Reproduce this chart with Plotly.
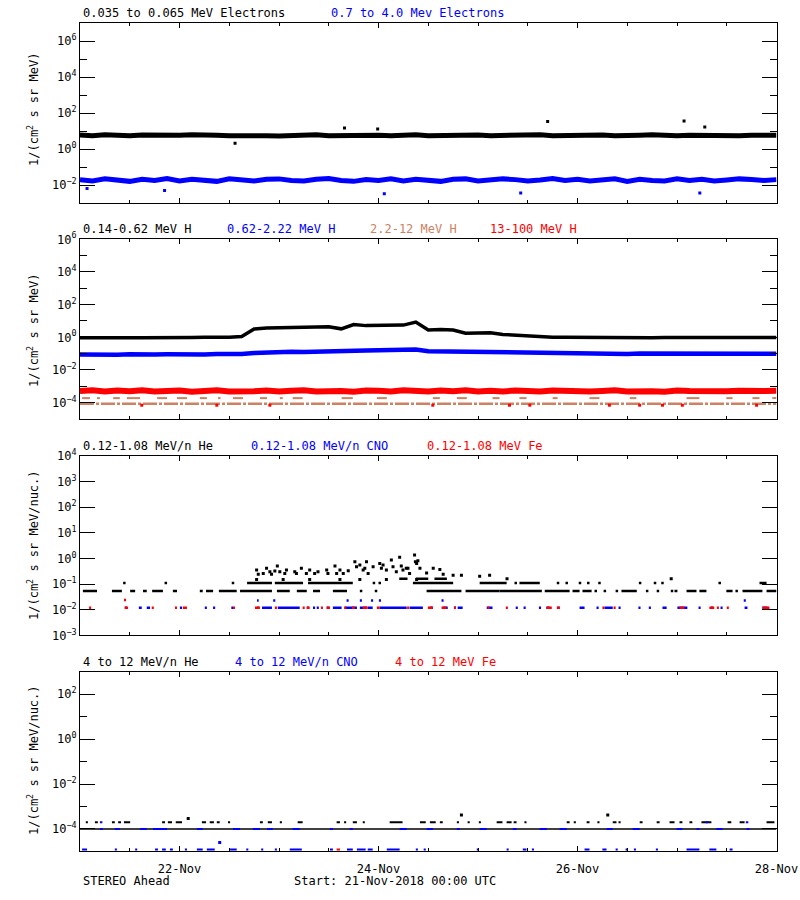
import pandas as pd
import plotly.graph_objects as go

# ---------------- time base ----------------
T0 = pd.Timestamp("2018-11-21 00:00")
T_END = pd.Timestamp("2018-11-28 00:00")
BAND_STEP_H = 3  # dense series sampled every 3 hours

# ---------------- panel 1 : electrons (1/(cm2 s sr MeV)) ----------------
E_LOW_BAND = [6.0, 5.6, 6.3, 5.8, 5.5, 6.1, 5.9, 5.4,
              5.8, 6.2, 5.6, 5.9, 5.5, 5.8, 6.1, 5.6,
              5.4, 5.9, 5.7, 6.2, 5.5, 5.8, 5.6, 6.1,
              5.9, 5.5, 5.8, 6.3, 5.6, 5.9, 5.5, 5.8,
              6.1, 5.6, 5.9, 5.4, 5.8, 6.2, 5.6, 5.9,
              5.5, 5.8, 6.1, 5.6, 5.4, 5.9, 6.2, 5.7,
              5.5, 5.9, 5.6, 6.1, 5.8, 5.5, 5.9, 5.6,
              5.8]
E_LOW_OUT_H = [37.4, 63.8, 71.8, 112.8, 145.7, 150.7]
E_LOW_OUT_V = [2.1, 15, 13, 34, 36, 17]

E_HIGH_BAND = [0.020, 0.017, 0.022, 0.019, 0.016, 0.021, 0.018, 0.023,
               0.017, 0.021, 0.019, 0.016, 0.022, 0.018, 0.017, 0.021,
               0.022, 0.018, 0.017, 0.021, 0.023, 0.018, 0.016, 0.020,
               0.018, 0.022, 0.017, 0.021, 0.019, 0.016, 0.021, 0.022,
               0.017, 0.019, 0.022, 0.020, 0.017, 0.019, 0.023, 0.018,
               0.021, 0.017, 0.019, 0.022, 0.016, 0.021, 0.018, 0.017,
               0.022, 0.018, 0.021, 0.017, 0.019, 0.022, 0.020, 0.018,
               0.020]
E_HIGH_OUT_H = [1.7, 20.4, 73.4, 106.3, 149.5]
E_HIGH_OUT_V = [0.0065, 0.005, 0.0033, 0.0036, 0.0036]

# ---------------- panel 2 : protons ----------------
H_LOW_BAND = [0.93, 0.91, 0.94, 0.92, 0.93, 0.95, 0.93, 0.96,
              0.97, 0.98, 1.00, 0.98, 1.02, 1.12, 3.2, 3.7,
              3.8, 3.7, 3.8, 4.2, 4.4, 3.3, 6.0, 5.2,
              5.4, 5.2, 5.6, 8.5, 2.8, 3.0, 2.8, 1.8,
              1.75, 1.9, 1.5, 1.35, 1.25, 1.08, 1.02, 1.00,
              0.98, 1.00, 0.97, 0.99, 0.96, 0.98, 0.95, 0.97,
              0.96, 0.98, 0.95, 0.97, 0.96, 0.94, 0.97, 0.96,
              0.97]
H_MID_BAND = [0.088, 0.084, 0.091, 0.086, 0.093, 0.085, 0.090, 0.092,
              0.087, 0.093, 0.089, 0.094, 0.088, 0.096, 0.110, 0.120,
              0.125, 0.131, 0.127, 0.136, 0.139, 0.151, 0.144, 0.156,
              0.159, 0.166, 0.169, 0.180, 0.140, 0.136, 0.129, 0.126,
              0.120, 0.117, 0.116, 0.109, 0.108, 0.104, 0.103, 0.099,
              0.101, 0.097, 0.103, 0.098, 0.096, 0.101, 0.102, 0.097,
              0.101, 0.098, 0.103, 0.097, 0.102, 0.099, 0.098, 0.103,
              0.100]
H_TOP_BAND = [5.2e-4, 5.7e-4, 4.8e-4, 5.5e-4, 5.0e-4, 5.8e-4, 4.9e-4, 5.3e-4,
              5.6e-4, 4.7e-4, 5.2e-4, 5.7e-4, 4.9e-4, 5.5e-4, 5.0e-4, 5.6e-4,
              4.8e-4, 5.3e-4, 5.8e-4, 4.9e-4, 5.5e-4, 5.1e-4, 4.7e-4, 5.6e-4,
              5.3e-4, 4.9e-4, 5.7e-4, 5.1e-4, 4.8e-4, 5.5e-4, 5.0e-4, 5.7e-4,
              4.9e-4, 5.4e-4, 4.8e-4, 5.6e-4, 5.1e-4, 4.9e-4, 5.5e-4, 5.0e-4,
              5.6e-4, 4.8e-4, 5.2e-4, 5.7e-4, 4.9e-4, 5.4e-4, 5.0e-4, 4.7e-4,
              5.5e-4, 5.1e-4, 4.9e-4, 5.6e-4, 5.0e-4, 5.4e-4, 4.8e-4, 5.2e-4,
              5.3e-4]
H_TOP_LOW_H = [14.9, 33.0, 45.8, 85.1, 103.6, 108.5, 127.7, 135.0, 140.5, 145.3, 163.2]
H_TOP_LOW_V = [7e-5, 7e-5, 7e-5, 7e-5, 7e-5, 7e-5, 7e-5, 7e-5, 7e-5, 7e-5, 7e-5]

# 2.2-12 MeV H: quantised count levels, (start hour, end hour)
H_HIGH_LEVEL1 = 8.5e-5
H_HIGH_LEVEL1_RUNS = [(0.0, 168.0)]
H_HIGH_LEVEL2 = 1.9e-4
H_HIGH_LEVEL2_RUNS = [(0.5, 2.4), (4.1, 4.8), (8.0, 9.6), (11.3, 14.5), (18.6, 21.0),
                      (23.4, 25.8), (28.9, 30.6), (33.3, 33.9), (36.9, 39.3), (43.4, 45.1),
                      (48.2, 48.9), (51.3, 53.7), (63.1, 65.8), (71.6, 74.0), (85.1, 86.8),
                      (90.9, 93.3), (99.5, 101.2), (106.0, 107.7), (114.0, 115.2),
                      (122.9, 125.3), (132.6, 134.2), (146.3, 149.4), (155.9, 157.4),
                      (162.2, 163.9), (167.0, 168.0)]

# ---------------- panel 3 : 0.12-1.08 MeV/n heavy ions ----------------
HE1_LEVEL_A = 0.054
HE1_RUNS_A = [(0.7, 4.1), (7.7, 10.1), (12.1, 13.3), (15.2, 16.1), (17.4, 20.0),
              (22.4, 23.4), (28.9, 29.6), (30.4, 32.1), (33.5, 37.8), (38.6, 46.3),
              (47.5, 50.6), (52.3, 54.7), (56.2, 57.9), (61.0, 64.4), (67.5, 68.1),
              (71.1, 71.7), (83.6, 92.0), (93.0, 101.2), (101.2, 111.4), (112.1, 118.1),
              (118.8, 120.5), (121.2, 123.4), (124.1, 124.7), (126.3, 126.9), (129.2, 129.8),
              (130.6, 134.3), (136.5, 137.1), (139.1, 139.7), (142.5, 143.1), (143.4, 144.1),
              (146.3, 148.7), (149.4, 151.1), (155.9, 157.4), (158.1, 158.7), (159.8, 164.6),
              (165.6, 168.0)]
HE1_LEVEL_B = 0.11
HE1_RUNS_B = [(10.4, 11.0), (20.4, 21.0), (36.6, 37.2), (40.3, 46.3), (47.0, 53.8),
              (55.0, 65.8), (70.6, 71.2), (72.0, 72.6), (80.3, 90.0), (96.4, 102.9),
              (104.8, 105.4), (106.0, 110.9), (115.0, 115.6), (117.1, 117.7), (120.3, 120.9),
              (122.3, 122.9), (125.0, 125.6), (134.8, 135.4), (138.4, 139.0), (140.2, 140.8),
              (154.0, 154.6), (163.9, 165.6)]
HE1_LEVEL_C = 0.16
HE1_RUNS_C = [(77.0, 79.0), (81.0, 84.0), (85.5, 88.5)]
HE1_PTS_H = [42.6, 43.0, 44.2, 45.0, 45.8, 46.2, 47.0, 47.6, 48.2, 49.4, 49.8, 51.8, 52.2,
             53.4, 54.6, 55.4, 56.6, 57.4, 59.5, 59.8, 61.5, 61.9, 62.7, 63.5, 64.7, 66.3,
             66.7, 67.5, 68.3, 68.7, 69.1, 69.5, 70.7, 72.3, 72.7, 73.1, 73.9, 75.1, 75.5,
             76.3, 77.1, 77.5, 77.9, 79.1, 79.5, 80.7, 81.2, 81.5, 82.0, 83.6, 85.2, 86.8,
             87.6, 90.0, 92.0, 96.4, 98.8, 42.6, 49.0, 55.4, 62.7, 67.5, 73.9, 81.2, 103.0,
             142.6, 78.7, 80.9]
HE1_PTS_V = [0.35, 0.24, 0.26, 0.41, 0.30, 0.24, 0.32, 0.50, 0.30, 0.26, 0.35, 0.30, 0.26,
             0.41, 0.26, 0.35, 0.26, 0.30, 0.35, 0.26, 0.50, 0.26, 0.35, 0.26, 0.33, 0.74,
             0.47, 0.55, 0.35, 0.41, 0.74, 0.26, 0.47, 0.63, 0.41, 0.55, 0.35, 0.86, 0.47,
             0.30, 1.10, 0.50, 0.35, 0.41, 0.26, 1.35, 0.63, 0.81, 0.41, 0.27, 0.41, 0.37,
             0.24, 0.22, 0.22, 0.20, 0.22, 0.15, 0.15, 0.15, 0.15, 0.15, 0.15, 0.15, 0.16,
             0.16, 0.41, 0.74]

CNO1_LEVEL_A = 0.012
CNO1_RUNS_A = [(10.8, 11.3), (14.2, 14.9), (16.1, 16.9), (24.1, 24.6), (30.1, 30.6),
               (32.1, 32.6), (36.5, 37.0), (42.7, 43.2), (43.9, 46.3), (47.7, 53.0),
               (54.7, 55.2), (56.2, 56.7), (57.1, 57.6), (59.5, 60.0), (61.0, 63.1),
               (63.9, 66.8), (67.5, 69.2), (69.4, 70.6), (72.3, 78.8), (79.5, 82.7),
               (84.4, 85.1), (87.5, 88.7), (90.2, 90.7), (91.1, 92.3), (98.1, 99.5),
               (105.1, 105.6), (107.0, 107.5), (110.7, 111.2), (112.5, 113.3), (115.2, 115.7),
               (120.5, 121.7), (124.6, 125.1), (126.5, 128.5), (129.9, 130.4), (134.7, 135.2),
               (137.2, 137.7), (140.5, 141.5), (144.1, 146.5), (149.2, 149.7), (152.2, 152.7),
               (154.5, 155.0), (160.3, 161.0), (164.6, 165.8)]
CNO1_LEVEL_B = 0.023
CNO1_RUNS_B = [(42.7, 43.1), (46.6, 47.1), (64.3, 64.8), (67.5, 68.0), (70.2, 70.7),
               (72.1, 72.6), (87.2, 87.7), (160.1, 160.6)]

FE1_LEVEL_A = 0.012
FE1_RUNS_A = [(2.2, 2.7), (10.8, 11.6), (17.3, 17.8), (22.9, 23.4), (24.8, 25.8),
              (36.9, 37.4), (42.2, 43.4), (47.0, 47.5), (53.7, 54.2), (54.7, 55.4),
              (58.1, 58.6), (59.5, 60.3), (63.7, 64.2), (65.6, 66.3), (68.2, 69.4),
              (71.6, 72.3), (78.9, 79.4), (83.9, 85.1), (87.2, 88.4), (90.2, 90.7),
              (98.3, 98.8), (102.7, 103.2), (112.5, 113.8), (115.0, 115.7), (126.0, 126.5),
              (128.7, 129.2), (144.6, 145.8), (151.8, 153.0), (153.6, 154.1), (156.0, 156.5),
              (164.6, 166.3)]
FE1_LEVEL_B = 0.024
FE1_RUNS_B = [(10.6, 11.1)]

# ---------------- panel 4 : 4-12 MeV/n heavy ions ----------------
HE2_LEVEL_A = 1.0e-4
HE2_RUNS_A = [(0.0, 168.0)]
HE2_LEVEL_B = 2.0e-4
HE2_RUNS_B = [(1.4, 1.9), (3.6, 4.3), (7.7, 8.4), (9.2, 9.9), (10.6, 12.1), (19.8, 20.5),
              (21.2, 22.2), (23.1, 24.6), (29.4, 30.4), (31.3, 32.3), (33.0, 33.7),
              (35.7, 36.2), (43.4, 44.1), (45.3, 46.3), (48.2, 48.7), (52.5, 53.7),
              (61.9, 62.7), (63.7, 64.2), (65.8, 66.8), (68.2, 68.7), (74.7, 77.8),
              (82.0, 83.4), (84.4, 85.8), (86.8, 87.5), (90.9, 91.4), (93.5, 94.0),
              (96.2, 96.7), (100.5, 101.9), (102.9, 104.1), (104.6, 105.3), (107.2, 107.7),
              (117.4, 118.1), (119.1, 119.6), (122.2, 122.9), (124.8, 125.3), (128.5, 129.4),
              (129.9, 130.4), (135.0, 135.7), (139.1, 139.8), (142.2, 143.4), (144.6, 145.3),
              (147.0, 147.7), (149.9, 152.3), (156.2, 157.1), (159.1, 160.3), (165.6, 167.5)]
HE2_PTS_H = [26.1, 92.0, 127.3]
HE2_PTS_V = [2.9e-4, 4.2e-4, 4.2e-4]

CNO2_LEVEL_A = 1.0e-4
CNO2_RUNS_A = [(4.8, 5.5), (8.4, 9.6), (14.5, 16.1), (17.6, 21.0), (28.2, 29.6), (36.9, 38.6),
               (41.7, 43.4), (45.1, 46.5), (51.3, 53.0), (60.3, 61.0), (65.1, 65.8),
               (77.1, 78.8), (83.6, 85.1), (90.9, 91.6), (96.4, 98.1), (104.4, 105.3),
               (110.9, 112.6), (115.7, 117.4), (127.0, 128.5), (133.3, 135.0), (143.9, 145.3),
               (148.7, 149.4), (153.5, 155.0), (160.8, 161.5)]
CNO2_LEVEL_B = 2.0e-4
CNO2_RUNS_B = [(4.8, 5.4), (150.9, 151.5), (160.6, 161.2)]
CNO2_LEVEL_C = 1.2e-5
CNO2_RUNS_C = [(0.5, 1.7), (8.4, 8.9), (13.3, 13.8), (18.1, 18.8), (19.8, 20.7), (21.7, 22.4),
               (25.3, 25.8), (28.2, 29.6), (30.6, 32.5), (36.2, 37.8), (40.1, 40.6),
               (43.7, 44.2), (47.0, 47.5), (50.6, 53.5), (60.3, 61.0), (64.4, 65.8),
               (66.8, 68.9), (69.4, 70.6), (74.0, 77.1), (81.0, 81.5), (82.9, 83.4),
               (95.7, 96.2), (102.9, 103.4), (106.8, 107.7), (109.0, 109.5), (121.7, 122.9),
               (126.0, 127.0), (129.2, 129.7), (131.6, 132.1), (133.6, 134.1), (138.9, 139.4),
               (146.3, 149.4), (151.8, 153.5), (156.7, 157.4)]
CNO2_PTS_H = [33.7]
CNO2_PTS_V = [2.5e-5]

FE2_LEVEL_A = 1.2e-5
FE2_RUNS_A = [(61.9, 62.7)]

# ---------------- axis tick labels ----------------
TICKS_P1 = [1e-2, 1e0, 1e2, 1e4, 1e6]
TEXT_P1 = ["10<sup>\u22122</sup>", "10<sup>0</sup>", "10<sup>2</sup>", "10<sup>4</sup>", "10<sup>6</sup>"]
MINOR_P1 = [1e-1, 1e1, 1e3, 1e5]
TICKS_P2 = [1e-4, 1e-2, 1e0, 1e2, 1e4, 1e6]
TEXT_P2 = ["10<sup>\u22124</sup>", "10<sup>\u22122</sup>", "10<sup>0</sup>", "10<sup>2</sup>",
           "10<sup>4</sup>", "10<sup>6</sup>"]
MINOR_P2 = [1e-3, 1e-1, 1e1, 1e3, 1e5]
TICKS_P3 = [1e-3, 1e-2, 1e-1, 1e0, 1e1, 1e2, 1e3, 1e4]
TEXT_P3 = ["10<sup>\u22123</sup>", "10<sup>\u22122</sup>", "10<sup>\u22121</sup>", "10<sup>0</sup>",
           "10<sup>1</sup>", "10<sup>2</sup>", "10<sup>3</sup>", "10<sup>4</sup>"]
TICKS_P4 = [1e-4, 1e-2, 1e0, 1e2]
TEXT_P4 = ["10<sup>\u22124</sup>", "10<sup>\u22122</sup>", "10<sup>0</sup>", "10<sup>2</sup>"]
MINOR_P4 = [1e-3, 1e-1, 1e1]

BLACK = "#000000"
BLUE = "#0000ff"
RED = "#ff0000"
SALMON = "#cd8264"
FONT = "DejaVu Sans Mono"


def hours_to_time(h):
    return T0 + pd.Timedelta(hours=h)


def band_times(vals):
    return [T0 + pd.Timedelta(hours=BAND_STEP_H * i) for i in range(len(vals))]


def runs_xy(runs, level):
    xs, ys = [], []
    for h0, h1 in runs:
        xs += [hours_to_time(h0), hours_to_time(h1), None]
        ys += [level, level, None]
    return xs, ys


fig = go.Figure()


def add_band(vals, color, width, ax):
    fig.add_trace(go.Scatter(x=band_times(vals), y=vals, mode="lines",
                             line=dict(color=color, width=width),
                             xaxis="x" + ax, yaxis="y" + ax, showlegend=False, hoverinfo="skip"))


def add_points(hs, vs, color, ax, size=3):
    fig.add_trace(go.Scatter(x=[hours_to_time(h) for h in hs], y=vs, mode="markers",
                             marker=dict(color=color, size=size, symbol="square", line=dict(width=0)),
                             xaxis="x" + ax, yaxis="y" + ax, showlegend=False, hoverinfo="skip"))


def add_runs(runs, level, color, ax, width=2.5, dash="solid"):
    xs, ys = runs_xy(runs, level)
    fig.add_trace(go.Scatter(x=xs, y=ys, mode="lines", connectgaps=False,
                             line=dict(color=color, width=width, dash=dash),
                             xaxis="x" + ax, yaxis="y" + ax, showlegend=False, hoverinfo="skip"))


# panel 1
add_band(E_LOW_BAND, BLACK, 5, "")
add_points(E_LOW_OUT_H, E_LOW_OUT_V, BLACK, "")
add_band(E_HIGH_BAND, BLUE, 5, "")
add_points(E_HIGH_OUT_H, E_HIGH_OUT_V, BLUE, "")

# panel 2
add_runs(H_HIGH_LEVEL1_RUNS, H_HIGH_LEVEL1, SALMON, "2", width=2.5, dash="14px,2px,3px,2px")
add_runs(H_HIGH_LEVEL2_RUNS, H_HIGH_LEVEL2, SALMON, "2", width=2)
add_band(H_TOP_BAND, RED, 6, "2")
add_points(H_TOP_LOW_H, H_TOP_LOW_V, RED, "2")
add_band(H_MID_BAND, BLUE, 4.5, "2")
add_band(H_LOW_BAND, BLACK, 3.5, "2")

# panel 3
add_runs(HE1_RUNS_A, HE1_LEVEL_A, BLACK, "3")
add_runs(HE1_RUNS_B, HE1_LEVEL_B, BLACK, "3")
add_runs(HE1_RUNS_C, HE1_LEVEL_C, BLACK, "3")
add_points(HE1_PTS_H, HE1_PTS_V, BLACK, "3")
add_runs(CNO1_RUNS_A, CNO1_LEVEL_A, BLUE, "3")
add_runs(CNO1_RUNS_B, CNO1_LEVEL_B, BLUE, "3")
add_runs(FE1_RUNS_A, FE1_LEVEL_A, RED, "3")
add_runs(FE1_RUNS_B, FE1_LEVEL_B, RED, "3")

# panel 4
add_runs(HE2_RUNS_A, HE2_LEVEL_A, BLACK, "4", width=1.5)
add_runs(HE2_RUNS_B, HE2_LEVEL_B, BLACK, "4", width=2)
add_points(HE2_PTS_H, HE2_PTS_V, BLACK, "4")
add_runs(CNO2_RUNS_A, CNO2_LEVEL_A, BLUE, "4", width=2)
add_runs(CNO2_RUNS_B, CNO2_LEVEL_B, BLUE, "4", width=2)
add_runs(CNO2_RUNS_C, CNO2_LEVEL_C, BLUE, "4", width=2)
add_points(CNO2_PTS_H, CNO2_PTS_V, BLUE, "4")
add_runs(FE2_RUNS_A, FE2_LEVEL_A, RED, "4", width=2)

# ---------------- layout ----------------
W, H = 800, 900
X_LEFT, X_RIGHT = 80, 776.5
PANEL_TOPS = [23.3, 239.3, 455.7, 671.7]
PANEL_H = 179.7


def ydom(top):
    return [1 - (top + PANEL_H) / H, 1 - top / H]


xbase = dict(type="date", range=[T0, T_END], domain=[X_LEFT / W, X_RIGHT / W],
             showline=True, linecolor="black", linewidth=1, mirror="ticks",
             ticks="inside", ticklen=5, tickwidth=1, tickcolor="black",
             tick0="2018-11-22", dtick=2 * 86400000, tickformat="%d-%b",
             minor=dict(dtick=43200000, ticks="inside", ticklen=3, tickcolor="black", tickwidth=1),
             showgrid=False, zeroline=False, fixedrange=True, automargin=False,
             tickfont=dict(family=FONT, size=12, color="black"))


def yaxis(top, rng, tv, tt, minor, anchor):
    d = dict(type="log", range=rng, domain=ydom(top), anchor=anchor,
             showline=True, linecolor="black", linewidth=1, mirror="ticks",
             ticks="inside", ticklen=15, tickwidth=1, tickcolor="black",
             tickmode="array", tickvals=tv, ticktext=tt, automargin=False,
             showgrid=False, zeroline=False, fixedrange=True,
             tickfont=dict(family=FONT, size=12, color="black"))
    if minor:
        d["minor"] = dict(tickmode="array", tickvals=minor, ticks="inside", ticklen=7,
                          tickcolor="black", tickwidth=1, showgrid=False)
    return d


layout = dict(width=W, height=H, margin=dict(l=0, r=0, t=0, b=0, autoexpand=False),
              paper_bgcolor="white", plot_bgcolor="white", showlegend=False,
              font=dict(family=FONT, size=12, color="black"))
layout["xaxis"] = dict(xbase, anchor="y", showticklabels=False)
layout["xaxis2"] = dict(xbase, anchor="y2", showticklabels=False)
layout["xaxis3"] = dict(xbase, anchor="y3", showticklabels=False)
layout["xaxis4"] = dict(xbase, anchor="y4", showticklabels=True, ticklabelstandoff=6)
layout["yaxis"] = yaxis(PANEL_TOPS[0], [-3, 7], TICKS_P1, TEXT_P1, MINOR_P1, "x")
layout["yaxis2"] = yaxis(PANEL_TOPS[1], [-5, 6], TICKS_P2, TEXT_P2, MINOR_P2, "x2")
layout["yaxis3"] = yaxis(PANEL_TOPS[2], [-3, 4], TICKS_P3, TEXT_P3, None, "x3")
layout["yaxis4"] = yaxis(PANEL_TOPS[3], [-5, 3], TICKS_P4, TEXT_P4, MINOR_P4, "x4")
fig.update_layout(**layout)

# panel titles (coloured legends)
TITLES = [
    [("0.035 to 0.065 MeV Electrons", BLACK, 81), ("0.7 to 4.0 Mev Electrons", BLUE, 329)],
    [("0.14-0.62 MeV H", BLACK, 81), ("0.62-2.22 MeV H", BLUE, 225),
     ("2.2-12 MeV H", SALMON, 368), ("13-100 MeV H", RED, 488)],
    [("0.12-1.08 MeV/n He", BLACK, 81), ("0.12-1.08 MeV/n CNO", BLUE, 249),
     ("0.12-1.08 MeV Fe", RED, 425)],
    [("4 to 12 MeV/n He", BLACK, 81), ("4 to 12 MeV/n CNO", BLUE, 233),
     ("4 to 12 MeV Fe", RED, 393)],
]
TITLE_Y = [13, 229, 446, 661.5]
YTITLES = ["1/(cm<sup>2</sup> s sr MeV)", "1/(cm<sup>2</sup> s sr MeV)",
           "1/(cm<sup>2</sup> s sr MeV/nuc.)", "1/(cm<sup>2</sup> s sr MeV/nuc.)"]
YTITLE_Y = [110, 331, 545, 760]

ann = []
for row, ty in zip(TITLES, TITLE_Y):
    for text, col, xp in row:
        ann.append(dict(text=text, x=xp / W, y=1 - ty / H, xref="paper", yref="paper",
                        xanchor="left", yanchor="middle", showarrow=False,
                        font=dict(family=FONT, size=12, color=col)))
for text, yp in zip(YTITLES, YTITLE_Y):
    ann.append(dict(text=text, x=33 / W, y=1 - yp / H, xref="paper", yref="paper",
                    xanchor="center", yanchor="middle", textangle=-90, showarrow=False,
                    font=dict(family=FONT, size=12, color="black")))
ann.append(dict(text="STEREO Ahead", x=81 / W, y=1 - 881 / H, xref="paper", yref="paper",
                xanchor="left", yanchor="middle", showarrow=False,
                font=dict(family=FONT, size=12, color="black")))
ann.append(dict(text="Start: 21-Nov-2018 00:00 UTC", x=292 / W, y=1 - 881 / H, xref="paper",
                yref="paper", xanchor="left", yanchor="middle", showarrow=False,
                font=dict(family=FONT, size=12, color="black")))
fig.update_layout(annotations=ann)

fig.write_html("out.html", config={"displayModeBar": False, "staticPlot": True},
               post_script="document.body.style.margin='0';document.body.style.overflow='hidden';")
